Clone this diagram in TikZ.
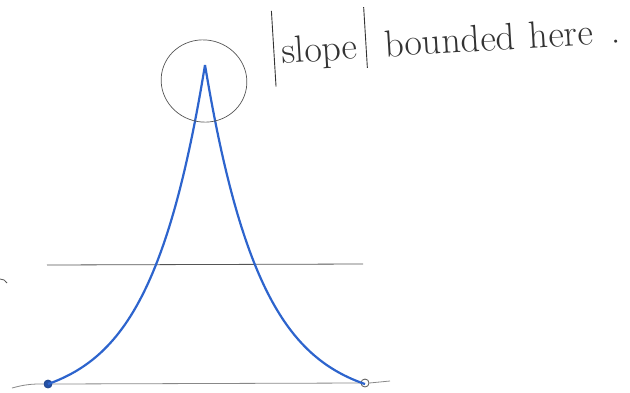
\documentclass[tikz,border=0pt]{standalone}
\usepackage{amsmath,amssymb}
\usepackage{tikz}
\usetikzlibrary{arrows.meta,positioning}
\definecolor{curveblue}{RGB}{45,100,205}
\definecolor{pencil}{RGB}{85,85,85}
\newcommand{\longbar}{\rule[-0.6em]{0.9pt}{2em}}
\newcommand{\shortbar}{\rule[-0.25em]{0.9pt}{1.6em}}

\begin{document}
\begin{tikzpicture}[
    x=1pt, y=-1pt,
    pen/.style={draw=pencil, line width=0.8pt},
    branch/.style={draw=curveblue, line width=2.2pt},
    enddot/.style={circle, draw=curveblue!70!black, line width=0.8pt, inner sep=0pt, minimum size=8pt},
]
    \useasboundingbox (0,0) rectangle (630,392);

    \coordinate (peak) at (205,65);
    \node[enddot, fill=curveblue!80!black] (lend) at (48,384) {};
    \node[enddot, draw=pencil, fill=white] (rend) at (365,383) {};

    % axis and level line
    \draw[pen, pencil!70] (12,388) to[bend left=8] (lend.west);
    \draw[pen, pencil!70] (lend.east) -- (rend.west);
    \draw[pen, pencil!70] (rend.east) -- (390,381);
    \draw[pen] (0,279) to[bend left=30] (7,283);
    \coordinate (levl) at (47,265);
    \coordinate (levr) at (363,264);
    \draw[pen] (levl) -- (levr);

    % the two branches of the cusp
    \draw[branch] plot[domain=48:205, samples=80] (\x, {384 - 338.5*(exp(-(205-\x)/55) - 0.0576)});
    \draw[branch] plot[domain=205:365, samples=80] (\x, {384 - 338.5*(exp(-(\x-205)/56) - 0.0576)});

    \draw[pen, line width=0.7pt, rotate around={-15:(204,81)}] (204,81) ellipse (43 and 41);

    \node[anchor=base west, rotate=3.5, text=pencil!60!black, font=\fontsize{38}{42}\selectfont, inner sep=0pt] (note) at (274,64)
        {\longbar\hspace{7pt}slope\hspace{8pt}\shortbar\hspace{18pt}bounded\hspace{14pt}here\hspace{18pt}.};
\end{tikzpicture}
\end{document}
